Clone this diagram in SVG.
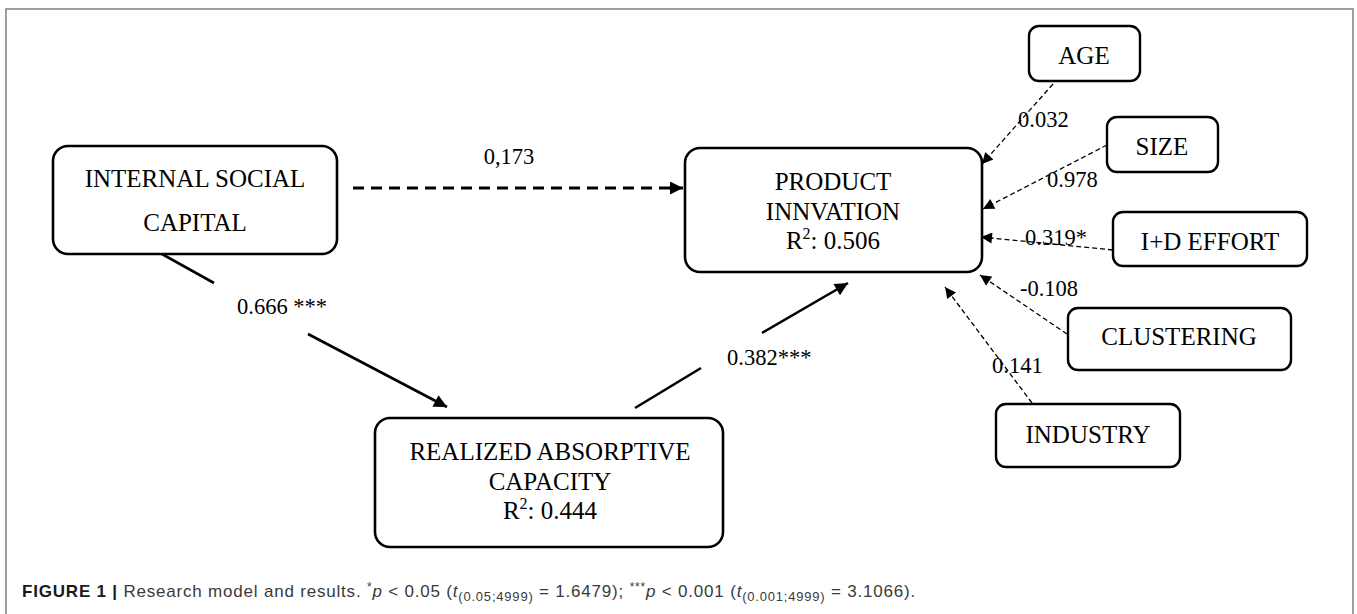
<svg xmlns="http://www.w3.org/2000/svg" width="1357" height="614" viewBox="0 0 1357 614">
<style>
  .frame { fill: none; stroke: #808080; stroke-width: 1.5; }
  .box { fill: #fff; stroke: #000; stroke-width: 2.6; }
  .sbox { fill: #fff; stroke: #000; stroke-width: 2.4; }
  .nt { font-family: "Liberation Serif", "Times New Roman", serif; font-size: 25px; fill: #000; text-anchor: middle; }
  .lbl { font-family: "Liberation Serif", "Times New Roman", serif; font-size: 22.5px; fill: #000; }
  .main { fill: none; stroke: #000; stroke-width: 2.6; }
  .bigdash { fill: none; stroke: #000; stroke-width: 3; stroke-dasharray: 11 7; }
  .ctrl { fill: none; stroke: #000; stroke-width: 1.3; stroke-dasharray: 5 3; }
  .cap { font-family: "Liberation Sans", Arial, sans-serif; font-size: 17px; letter-spacing: 0.8px; fill: #3a3a3a; }
  .sup { font-size: 12px; }
  .sub { font-size: 13px; }
</style>
<defs>
  <marker id="ah" viewBox="0 0 10 10" refX="10" refY="5" markerWidth="16" markerHeight="13" markerUnits="userSpaceOnUse" orient="auto">
    <path d="M0,0 L10,5 L0,10 z" fill="#000"/>
  </marker>
  <marker id="ahs" viewBox="0 0 10 10" refX="10" refY="5" markerWidth="14" markerHeight="11" markerUnits="userSpaceOnUse" orient="auto">
    <path d="M0,0 L10,5 L0,10 z" fill="#000"/>
  </marker>
</defs>

<rect width="1357" height="614" fill="#fff"/>
<path class="frame" d="M6,620 L6,9 L1353,9 L1353,620"/>

<g id="connectors">
  <line class="bigdash" x1="353" y1="188" x2="683" y2="188" marker-end="url(#ah)"/>
  <line class="main" x1="162" y1="254" x2="214" y2="283"/>
  <line class="main" x1="308" y1="334" x2="447" y2="407" marker-end="url(#ah)"/>
  <line class="main" x1="635" y1="408" x2="701" y2="368"/>
  <line class="main" x1="762" y1="333" x2="848" y2="283" marker-end="url(#ah)"/>
  <line class="ctrl" x1="1053" y1="84" x2="982" y2="164" marker-end="url(#ahs)"/>
  <line class="ctrl" x1="1107" y1="145" x2="983" y2="209" marker-end="url(#ahs)"/>
  <line class="ctrl" x1="1113" y1="250" x2="981" y2="237" marker-end="url(#ahs)"/>
  <line class="ctrl" x1="1067" y1="334" x2="980" y2="275" marker-end="url(#ahs)"/>
  <line class="ctrl" x1="1032" y1="403" x2="945" y2="287" marker-end="url(#ahs)"/>
  <text class="lbl" x="509" y="164" text-anchor="middle">0,173</text>
  <text class="lbl" x="237" y="314">0.666 ***</text>
  <text class="lbl" x="727" y="365">0.382***</text>
  <text class="lbl" x="1018" y="127">0.032</text>
  <text class="lbl" x="1047" y="187">0.978</text>
  <text class="lbl" x="1025" y="245">0.319*</text>
  <text class="lbl" x="1020" y="296">-0.108</text>
  <text class="lbl" x="992" y="373">0.141</text>
</g>

<g id="isc">
  <rect class="box" x="53" y="146" width="284" height="108" rx="15"/>
  <text class="nt" x="195" y="187">INTERNAL SOCIAL</text>
  <text class="nt" x="195" y="231">CAPITAL</text>
</g>

<g id="product">
  <rect class="box" x="685" y="148" width="297" height="124" rx="15"/>
  <text class="nt" x="833" y="190">PRODUCT</text>
  <text class="nt" x="833" y="220">INNVATION</text>
  <text class="nt" x="833" y="249">R<tspan font-size="16" dy="-10">2</tspan><tspan dy="10">: 0.506</tspan></text>
</g>

<g id="rac">
  <rect class="box" x="375" y="418" width="348" height="129" rx="15"/>
  <text class="nt" x="550" y="460">REALIZED ABSORPTIVE</text>
  <text class="nt" x="550" y="490">CAPACITY</text>
  <text class="nt" x="550" y="519">R<tspan font-size="16" dy="-10">2</tspan><tspan dy="10">: 0.444</tspan></text>
</g>

<g id="age">
  <rect class="sbox" x="1029" y="26" width="111" height="55" rx="10"/>
  <text class="nt" x="1084" y="64">AGE</text>
</g>
<g id="size">
  <rect class="sbox" x="1107" y="117" width="111" height="55" rx="10"/>
  <text class="nt" x="1162" y="155">SIZE</text>
</g>
<g id="effort">
  <rect class="sbox" x="1113" y="212" width="194" height="54" rx="10"/>
  <text class="nt" x="1210" y="250">I+D EFFORT</text>
</g>
<g id="clustering">
  <rect class="sbox" x="1068" y="308" width="223" height="62" rx="10"/>
  <text class="nt" x="1179" y="345">CLUSTERING</text>
</g>
<g id="industry">
  <rect class="sbox" x="996" y="404" width="184" height="63" rx="10"/>
  <text class="nt" x="1088" y="443">INDUSTRY</text>
</g>

<text class="cap" x="22" y="597"><tspan font-weight="bold" fill="#1a1a1a">FIGURE 1 |</tspan> Research model and results. <tspan class="sup" dy="-6">*</tspan><tspan dy="6" font-style="italic">p</tspan> &lt; 0.05 (<tspan font-style="italic">t</tspan><tspan class="sub" dy="4">(0.05;4999)</tspan><tspan dy="-4"> = 1.6479); </tspan><tspan class="sup" dy="-6">***</tspan><tspan dy="6" font-style="italic">p</tspan> &lt; 0.001 (<tspan font-style="italic">t</tspan><tspan class="sub" dy="4">(0.001;4999)</tspan><tspan dy="-4"> = 3.1066).</tspan></text>
</svg>
